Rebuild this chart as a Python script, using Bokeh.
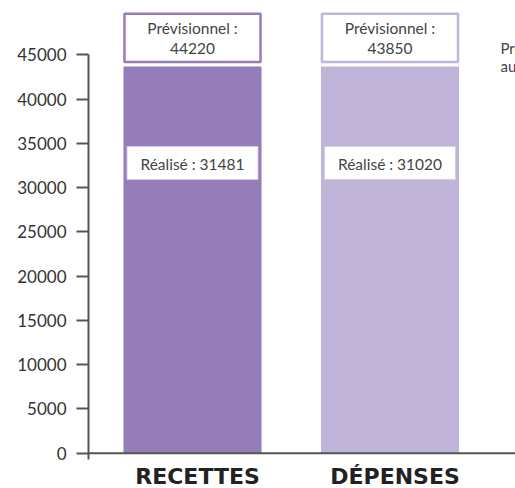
from bokeh.plotting import figure
from bokeh.models import Range1d, FixedTicker, Span
from bokeh.core.properties import value
from bokeh.embed import file_html
from bokeh.resources import INLINE

# ---- data ----
categories = ["RECETTES", "DÉPENSES"]
previsionnel = [44220, 43850]
realise = [31481, 31020]
y_ticks = [0, 5000, 10000, 15000, 20000, 25000, 30000, 35000, 40000, 45000]
legend_lines = ["Prévisionnel", "au 31/12"]

bar_colors = ["#957db9", "#c0b5d8"]
label_font = "Lato"

xs = list(range(len(categories)))

p = figure(width=515, height=488, output_backend="svg", toolbar_location=None,
           x_range=Range1d(-0.5266, 1.6354), y_range=Range1d(-3987, 51135),
           min_border_left=88, min_border_right=0, min_border_top=0, min_border_bottom=0,
           x_axis_location=None)
p.outline_line_color = None
p.grid.visible = False
p.background_fill_color = "white"
p.border_fill_color = "white"

# y axis
ya = p.yaxis[0]
ya.ticker = FixedTicker(ticks=y_ticks)
ya.bounds = (-712, max(y_ticks))
ya.axis_line_color = "#555555"
ya.axis_line_width = 2
ya.major_tick_line_color = "#555555"
ya.major_tick_line_width = 2
ya.major_tick_out = 12
ya.major_tick_in = 0
ya.minor_tick_line_color = None
ya.major_label_standoff = 10
ya.major_label_text_font = label_font
ya.major_label_text_font_size = "17px"
ya.major_label_text_color = "#333333"

# bars
p.vbar(x=xs, top=previsionnel, bottom=0, width=0.699, color=bar_colors, line_color=None)

# baseline
p.add_layout(Span(location=0, dimension="width", line_color="#555555", line_width=2))

# previsionnel boxes
top_level = max(previsionnel)
box_bot = top_level - 30
box_top = top_level + 5420
halo_bot = top_level - 540
p.quad(left=[x - 0.36 for x in xs], right=[x + 0.36 for x in xs],
       bottom=halo_bot, top=box_top + 300, fill_color="white", line_color=None)
p.quad(left=[x - 0.3445 for x in xs], right=[x + 0.3445 for x in xs],
       bottom=box_bot, top=box_top, fill_color="white",
       line_color=bar_colors, line_width=2.5)
p.text(x=xs, y=[(box_bot + box_top) / 2] * len(xs),
       text=[f"Prévisionnel :\n{v}" for v in previsionnel],
       text_align="center", text_baseline="middle", text_line_height=1.15,
       text_font=value(label_font), text_font_size="15.5px", text_color="#444444")

# realise boxes
r_level = max(realise) + 1300
r_half = 1860
p.quad(left=[x - 0.3315 for x in xs], right=[x + 0.3315 for x in xs],
       bottom=r_level - r_half, top=r_level + r_half, fill_color="white",
       line_color="#d4cce6", line_width=1)
p.text(x=xs, y=[r_level - 150] * len(xs),
       text=[f"Réalisé : {v}" for v in realise],
       text_align="center", text_baseline="middle",
       text_font=value(label_font), text_font_size="15.5px", text_color="#444444")

# category labels
p.text(x=xs, y=[0] * len(xs), text=categories, y_offset=23, x_offset=5,
       text_align="center", text_baseline="middle",
       text_font=value("DejaVu Sans"), text_font_style="bold",
       text_font_size="22px", text_color="#222222")

# legend text at right edge (cut off in the reference as well)
p.text(x=[1.6354 - 15 / 197.5], y=[44700], text=["\n".join(legend_lines)],
       text_align="left", text_baseline="middle", text_line_height=1.0,
       text_font=value(label_font), text_font_size="15px", text_color="#444444")

open("out.html", "w").write(file_html(p, INLINE))
